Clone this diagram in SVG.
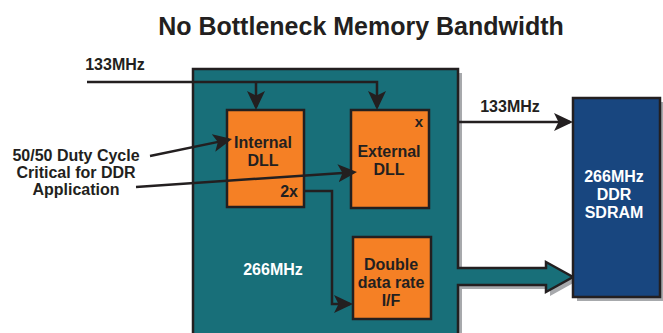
<svg xmlns="http://www.w3.org/2000/svg" width="663" height="333" viewBox="0 0 663 333">
<style>
text{font-family:"Liberation Sans",Arial,sans-serif;font-weight:bold;}
.t{font-size:16px;fill:#231f20;text-anchor:middle;}
.w{font-size:16px;fill:#ffffff;text-anchor:middle;}
.box{fill:#f58025;stroke:#231f20;stroke-width:2.5;}
.shadow{fill:#a7a9ac;}
.conn{fill:none;stroke:#231f20;stroke-width:2.5;}
</style>
<defs>
<marker id="ah" markerWidth="22" markerHeight="20" refX="16" refY="9" orient="auto" markerUnits="userSpaceOnUse">
<path d="M0,0 L19,9 L0,18 L4.5,9 Z" fill="#231f20"/>
</marker>
</defs>
<rect width="663" height="333" fill="#ffffff"/>
<text x="361" y="35" font-size="25" fill="#231f20" text-anchor="middle">No Bottleneck Memory Bandwidth</text>

<g id="main-chip">
<path class="shadow" d="M197,349 V73 H462 V272 H550 V266 L577,281 L550,296 V289 H462 V349 Z"/>
<path d="M193,345 V69 H458 V268 H546 V262 L573,277 L546,292 V285 H458 V345 Z" fill="#186f79" stroke="#231f20" stroke-width="2.5" stroke-linejoin="miter"/>
<text class="w" x="273" y="275">266MHz</text>
</g>

<g id="sdram">
<rect class="shadow" x="577" y="102" width="87" height="199"/>
<rect x="573" y="98" width="87" height="199" fill="#18467f" stroke="#231f20" stroke-width="2.5"/>
<text class="w" x="614" y="182">266MHz</text>
<text class="w" x="614" y="200">DDR</text>
<text class="w" x="614" y="218">SDRAM</text>
</g>

<g id="internal-dll">
<rect class="box" x="227" y="110" width="77" height="97"/>
<text class="t" x="263" y="148">Internal</text>
<text class="t" x="263" y="166">DLL</text>
<text class="t" x="298" y="197" style="text-anchor:end">2x</text>
</g>

<g id="external-dll">
<rect class="box" x="351" y="110" width="78" height="98"/>
<text class="t" x="419" y="127" style="font-size:15px">x</text>
<text class="t" x="389" y="157">External</text>
<text class="t" x="389" y="175">DLL</text>
</g>

<g id="ddr-if">
<rect class="box" x="353" y="237" width="78" height="82"/>
<text class="t" x="391" y="270">Double</text>
<text class="t" x="391" y="288">data rate</text>
<text class="t" x="391" y="306">I/F</text>
</g>

<g id="connectors">
<path class="conn" d="M87,82 H377 V107" marker-end="url(#ah)"/>
<path class="conn" d="M256,82 V107" marker-end="url(#ah)"/>
<path class="conn" d="M305,191 H332 V304 H350" marker-end="url(#ah)"/>
<path class="conn" d="M458,122 H570" marker-end="url(#ah)"/>
<path class="conn" d="M150,156 L229.1,139.6" marker-end="url(#ah)"/>
<path class="conn" d="M136,187 L354,172.2" marker-end="url(#ah)"/>
<text class="t" x="115" y="70">133MHz</text>
<text class="t" x="510" y="112">133MHz</text>
<text class="t" x="76" y="161">50/50 Duty Cycle</text>
<text class="t" x="76" y="178">Critical for DDR</text>
<text class="t" x="76" y="195">Application</text>
</g>
</svg>
